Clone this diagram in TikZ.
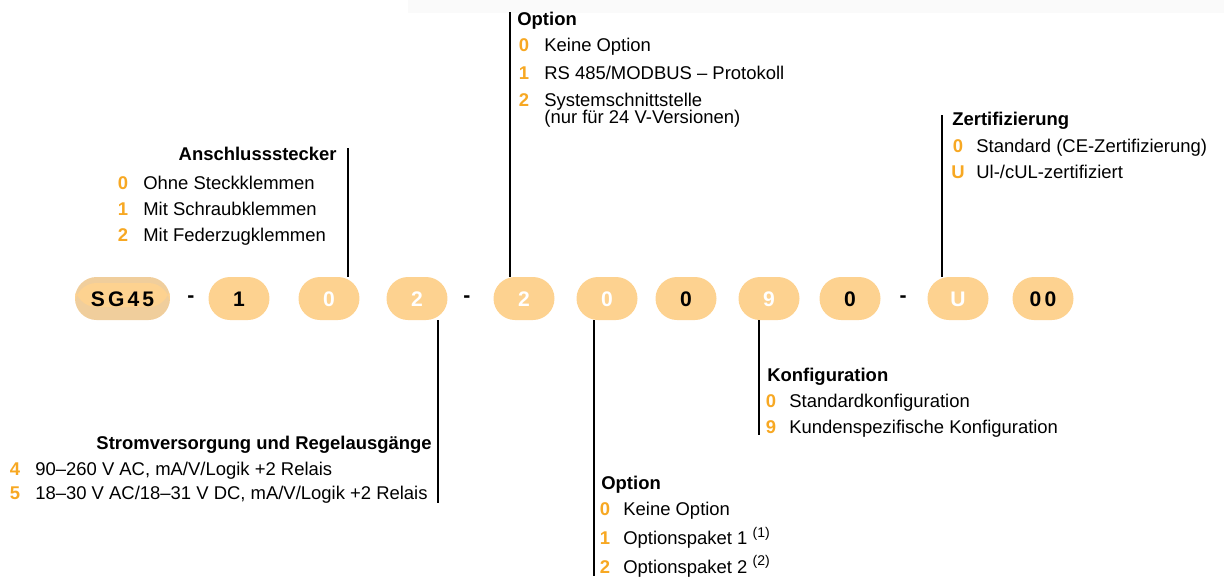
\documentclass[tikz,border=0pt]{standalone}
\usepackage{fontspec}
\setmainfont{Liberation Sans}
\usetikzlibrary{positioning}
\usetikzlibrary{calc}
\definecolor{pill}{HTML}{FDD290}
\definecolor{pilldark}{HTML}{F0CE9C}
\definecolor{num}{HTML}{F7A823}
\definecolor{topbar}{HTML}{FAFAFA}

\begin{document}
\begin{tikzpicture}[x=0.02cm, y=-0.02cm,
        code/.style={rectangle, fill=pill, rounded corners=0.43cm, minimum width=1.22cm, minimum height=0.86cm, inner sep=0pt, text height=8.6pt, text depth=0pt, font=\fontsize{12}{14}\selectfont\bfseries},
        sep/.style={inner sep=0pt, font=\fontsize{12}{14}\selectfont\bfseries},
        title/.style={inner sep=0pt, font=\fontsize{10.5}{12}\selectfont\bfseries},
        item/.style={inner sep=0pt, anchor=base west, align=left, font=\fontsize{10.5}{12}\selectfont},
        nr/.style={inner sep=0pt, anchor=base, text=num, font=\fontsize{10.5}{12}\selectfont\bfseries},
        rule/.style={black, line width=1.2pt},
        ]
            \useasboundingbox (0,0) rectangle (1224,576);
            \fill[topbar] (408,0) rectangle (1224,13);

            % code pills
            \node[code, fill=pilldark, minimum width=1.9cm,
                  path picture={\fill[pill] ($(path picture bounding box.west)+(0,0.31cm)$) rectangle ($(path picture bounding box.east)+(0,-0.17cm)$);}]
                  (sg) at (122.5,298.5) {\addfontfeatures{LetterSpace=15}SG45};
            \node[sep] (d1) at (191,299) {-};
            \node[code] (c1) at (239,298.5) {1};
            \node[code, text=white] (c2) at (329,298.5) {0};
            \node[code, text=white] (c3) at (417,298.5) {2};
            \node[sep] (d2) at (467,299) {-};
            \node[code, text=white] (c4) at (524,298.5) {2};
            \node[code, text=white] (c5) at (607,298.5) {0};
            \node[code] (c6) at (686,298.5) {0};
            \node[code, text=white] (c7) at (769,298.5) {9};
            \node[code] (c8) at (850,298.5) {0};
            \node[sep] (d3) at (903,299) {-};
            \node[code, text=white] (c9) at (958,298.5) {U};
            \node[code] (c10) at (1043,298.5) {\addfontfeatures{LetterSpace=15}00};

            % Anschlussstecker
            \coordinate (l1) at (348,148);
            \draw[rule] (l1) -- (l1 |- c2.north);
            \node[title, anchor=base east] (t1) at (337,160.5) {Anschlussstecker};
            \node[nr] (n10) at (123,189) {0};
            \node[item] (i10) at (143,189) {Ohne Steckklemmen};
            \node[nr] (n11) at (123,215) {1};
            \node[item] (i11) at (143,215) {Mit Schraubklemmen};
            \node[nr] (n12) at (123,241) {2};
            \node[item] (i12) at (143,241) {Mit Federzugklemmen};

            % Stromversorgung
            \coordinate (l2) at (438,503);
            \draw[rule] (l2 |- c3.south) -- (l2);
            \node[title, anchor=base east] (t2) at (432,449.5) {Stromversorgung und Regelausgänge};
            \node[nr] (n24) at (15,475.5) {4};
            \node[item] (i24) at (35,475.5) {90–260 V AC, mA/V/Logik +2 Relais};
            \node[nr] (n25) at (15,499.5) {5};
            \node[item] (i25) at (35,499.5) {18–30 V AC/18–31 V DC, mA/V/Logik +2 Relais};

            % Option (oben)
            \coordinate (l3) at (510,12);
            \draw[rule] (l3) -- (l3 |- c4.north);
            \node[title, anchor=base west] (t3) at (517,25) {Option};
            \node[nr] (n30) at (524,51.5) {0};
            \node[item] (i30) at (544,51.5) {Keine Option};
            \node[nr] (n31) at (524,79.5) {1};
            \node[item] (i31) at (544,79.5) {RS 485/MODBUS – Protokoll};
            \node[nr] (n32) at (524,106.5) {2};
            \node[item] (i32) at (544,123) {Systemschnittstelle\\[-2.6pt](nur für 24 V-Versionen)};

            % Option (unten)
            \coordinate (l4) at (594,576);
            \draw[rule] (l4 |- c5.south) -- (l4);
            \node[title, anchor=base west] (t4) at (601,489.5) {Option};
            \node[nr] (n40) at (605,515.5) {0};
            \node[item] (i40) at (623,515.5) {Keine Option};
            \node[nr] (n41) at (605,544.5) {1};
            \node[item] (i41) at (623,544.5) {Optionspaket 1 {\fontsize{8}{9}\selectfont\raisebox{4pt}{(1)}}};
            \node[nr] (n42) at (605,573) {2};
            \node[item] (i42) at (623,573) {Optionspaket 2 {\fontsize{8}{9}\selectfont\raisebox{4pt}{(2)}}};

            % Konfiguration
            \coordinate (l5) at (759,435);
            \draw[rule] (l5 |- c7.south) -- (l5);
            \node[title, anchor=base west] (t5) at (767,381.5) {Konfiguration};
            \node[nr] (n50) at (771,407.5) {0};
            \node[item] (i50) at (789,407.5) {Standardkonfiguration};
            \node[nr] (n59) at (771,433.5) {9};
            \node[item] (i59) at (789,433.5) {Kundenspezifische Konfiguration};

            % Zertifizierung
            \coordinate (l6) at (942,115);
            \draw[rule] (l6) -- (l6 |- c9.north);
            \node[title, anchor=base west] (t6) at (952,125.5) {Zertifizierung};
            \node[nr] (n60) at (958,152.5) {0};
            \node[item] (i60) at (976,152.5) {Standard (CE-Zertifizierung)};
            \node[nr] (n6U) at (958,178.5) {U};
            \node[item] (i6U) at (976,178.5) {Ul-/cUL-zertifiziert};
        \end{tikzpicture}
\end{document}
